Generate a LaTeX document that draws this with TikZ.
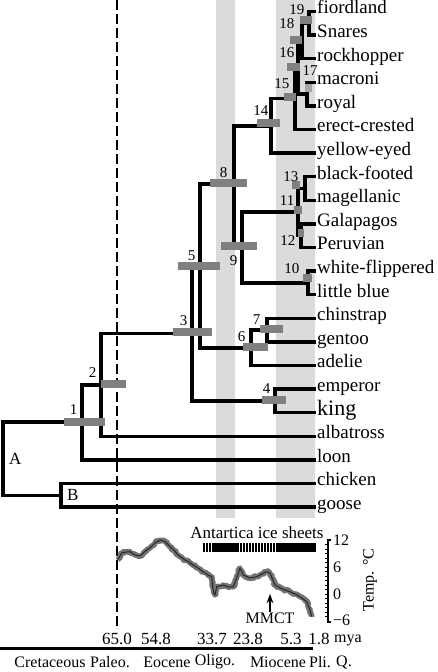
\documentclass[tikz,border=0pt]{standalone}
\usepackage{fontspec}
\setmainfont{Liberation Serif}
\usetikzlibrary{arrows.meta, positioning, decorations.pathmorphing}

\begin{document}
\begin{tikzpicture}[x=1pt, y=-1pt, >=Stealth,
  tiplab/.style={anchor=west, inner sep=1pt, text height=0.46em, text depth=0pt, font=\fontsize{19}{19}\selectfont},
  numlab/.style={inner sep=0.5pt, font=\fontsize{15}{15}\selectfont},
  branch/.style={line width=3.5pt},
  cibar/.style={fill=black!50},
  band/.style={fill=black!14},
  axlab/.style={inner sep=0pt, font=\fontsize{17}{17}\selectfont},
  perlab/.style={inner sep=0pt, font=\fontsize{16}{16}\selectfont},
  templab/.style={anchor=west, inner sep=0pt, font=\fontsize{16}{16}\selectfont}]
  \useasboundingbox (0,0) rectangle (438,672);
  \fill[band] (216,0) rectangle (235,518);
  \fill[band] (276,0) rectangle (315,518);
  \draw[line width=2.2pt, dash pattern=on 10pt off 4pt] (117,0) -- (117,628);

  \node[tiplab] (fiordland) at (316,11.5) {fiordland};
  \node[tiplab] (snares) at (316,35.1) {Snares};
  \node[tiplab] (rockhopper) at (316,58.7) {rockhopper};
  \node[tiplab] (macroni) at (316,82.3) {macroni};
  \node[tiplab] (royal) at (316,105.9) {royal};
  \node[tiplab] (erectcrested) at (316,129.5) {erect-crested};
  \node[tiplab] (yelloweyed) at (316,153.1) {yellow-eyed};
  \node[tiplab] (blackfooted) at (316,176.7) {black-footed};
  \node[tiplab] (magellanic) at (316,200.3) {magellanic};
  \node[tiplab] (galapagos) at (316,223.9) {Galapagos};
  \node[tiplab] (peruvian) at (316,247.5) {Peruvian};
  \node[tiplab] (whiteflippered) at (316,271.1) {white-flippered};
  \node[tiplab] (littleblue) at (316,294.7) {little blue};
  \node[tiplab] (chinstrap) at (316,318.3) {chinstrap};
  \node[tiplab] (gentoo) at (316,341.9) {gentoo};
  \node[tiplab] (adelie) at (316,365.5) {adelie};
  \node[tiplab] (emperor) at (316,389.1) {emperor};
  \node[tiplab, font=\fontsize{22}{22}\selectfont] (king) at (316,412.7) {king};
  \node[tiplab] (albatross) at (316,436.3) {albatross};
  \node[tiplab] (loon) at (316,459.9) {loon};
  \node[tiplab] (chicken) at (316,483.5) {chicken};
  \node[tiplab] (goose) at (316,507.1) {goose};

  \coordinate (n19) at (309,23.3);
  \coordinate (n18) at (302,41);
  \coordinate (n17) at (307,94.1);
  \coordinate (n16) at (298,67.5);
  \coordinate (n15) at (295,98.5);
  \coordinate (n14) at (271,125.8);
  \coordinate (n13) at (305,188.5);
  \coordinate (n12) at (301,235.7);
  \coordinate (n11) at (298,212.1);
  \coordinate (n10) at (308,282.9);
  \coordinate (n9) at (242,247.5);
  \coordinate (n8) at (234,184);
  \coordinate (n7) at (267,330.1);
  \coordinate (n6) at (251,347.8);
  \coordinate (n5) at (200,266);
  \coordinate (n4) at (275,400.9);
  \coordinate (n3) at (192,333.4);
  \coordinate (n2) at (101,384.8);
  \coordinate (n1) at (82,422);
  \coordinate (B) at (61,495.3);
  \coordinate (A) at (3,458.6);

  \draw[branch] (n1) -| (A) |- (B);
  \draw[branch] (chicken.west) -| (B) |- (goose.west);
  \draw[branch] (n2) -| (n1) |- (loon.west);
  \draw[branch] (n3) -| (n2) |- (albatross.west);
  \draw[branch] (n5) -| (n3) |- (n4);
  \draw[branch] (emperor.west) -| (n4) |- (king.west);
  \draw[branch] (n8) -| (n5) |- (n6);
  \draw[branch] (n7) -| (n6) |- (adelie.west);
  \draw[branch] (chinstrap.west) -| (n7) |- (gentoo.west);
  \draw[branch] (n14) -| (n8) |- (n9);
  \draw[branch] (n11) -| (n9) |- (n10);
  \draw[branch] (whiteflippered.west) -| (n10) |- (littleblue.west);
  \draw[branch] (n13) -| (n11) |- (n12);
  \draw[branch] (blackfooted.west) -| (n13) |- (magellanic.west);
  \draw[branch] (galapagos.west) -| (n12) |- (peruvian.west);
  \draw[branch] (n15) -| (n14) |- (yelloweyed.west);
  \draw[branch] (n16) -| (n15) |- (erectcrested.west);
  \draw[branch] (n18) -| (n16) |- (n17);
  \draw[branch] (macroni.west) -| (n17) |- (royal.west);
  \draw[branch] (n19) -| (n18) |- (rockhopper.west);
  \draw[branch] (fiordland.west) -| (n19) |- (snares.west);

  \fill[cibar] (64,418.3) rectangle (105,425.7);
  \fill[cibar] (101,380.3) rectangle (126,387.7);
  \fill[cibar] (173,328.3) rectangle (212,335.7);
  \fill[cibar] (262,396.3) rectangle (286,403.7);
  \fill[cibar] (178,262.3) rectangle (220,269.7);
  \fill[cibar] (243,343.3) rectangle (268,350.7);
  \fill[cibar] (260,325.3) rectangle (283,332.7);
  \fill[cibar] (210,179.3) rectangle (247,186.7);
  \fill[cibar] (221,242.3) rectangle (257,249.7);
  \fill[cibar] (303,274.3) rectangle (312,281.7);
  \fill[cibar] (294,206.3) rectangle (302,213.7);
  \fill[cibar] (298,229.3) rectangle (304,236.7);
  \fill[cibar] (292,181.3) rectangle (300,188.7);
  \fill[cibar] (257,119.3) rectangle (280,126.7);
  \fill[cibar] (284,93.3) rectangle (296,100.7);
  \fill[cibar] (287,63.3) rectangle (300,70.7);
  \fill[cibar, black!35] (305,84.3) rectangle (312,91.7);
  \fill[cibar] (290,36.3) rectangle (302,43.7);
  \fill[cibar] (300,16.3) rectangle (312,23.7);

  \node[numlab, above left=7pt and 4pt of n1] (lab1) {1};
  \node[numlab, above left=7pt and 4pt of n2] (lab2) {2};
  \node[numlab, above left=7pt and 4pt of n3] (lab3) {3};
  \node[numlab, above left=7pt and 4pt of n4] (lab4) {4};
  \node[numlab, above left=5pt and 4pt of n5] (lab5) {5};
  \node[numlab, above left=5pt and 5pt of n6] (lab6) {6};
  \node[numlab, above left=5pt and 6pt of n7] (lab7) {7};
  \node[numlab, above left=6pt and 6pt of n8] (lab8) {8};
  \node[numlab, below left=7pt and 4pt of n9] (lab9) {9};
  \node[numlab, above left=9pt and 8pt of n10] (lab10) {10};
  \node[numlab, above left=6pt and 3pt of n11] (lab11) {11};
  \node[numlab, below left=-1pt and 5pt of n12] (lab12) {12};
  \node[numlab, above left=6pt and 6pt of n13] (lab13) {13};
  \node[numlab, above left=10pt and 2pt of n14] (lab14) {14};
  \node[numlab, above left=9pt and 5pt of n15] (lab15) {15};
  \node[numlab, above left=9pt and 3pt of n16] (lab16) {16};
  \node[numlab, above=18pt of n17, xshift=3pt] (lab17) {17};
  \node[numlab, above left=12pt and 7pt of n18] (lab18) {18};
  \node[numlab, above left=8pt and 4pt of n19] (lab19) {19};
  \node[axlab, right=6pt of A] (labA) {A};
  \node[axlab, right=6pt of B] (labB) {B};

  \node[axlab] (ice) at (257,533) {Antartica ice sheets};
  \foreach \x in {203,206,209,212} \fill (\x,543) rectangle ++(1.7,9);
  \fill (213,543) rectangle (237,552);
  \foreach \x in {237,240,...,276} \fill (\x,543) rectangle ++(1.8,9);
  \fill (277,543) rectangle (316,552);

  \draw[black!85, line width=1pt, line join=round,
    preaction={draw, black!55, line width=5.5pt, line join=round, decorate,
      decoration={random steps, segment length=1.5pt, amplitude=1.1pt}}]
    (117.7,560) -- (121.7,553) -- (126,552) -- (130,551.7) -- (135,555) -- (140,556)
    -- (146.7,550) -- (151,547) -- (155,543) -- (160,540) -- (165,541.7) -- (170,546.7)
    -- (174,550) -- (178,555) -- (185,560) -- (189,562) -- (193,565) -- (198,568)
    -- (203,571.7) -- (208,575) -- (211.7,576.7) -- (213.3,591.7) -- (215,595)
    -- (216.7,586.7) -- (223.3,585) -- (228,587) -- (233.3,586.7) -- (236.7,578)
    -- (240,568) -- (243.3,575) -- (250,578) -- (256.7,576.7) -- (262,574)
    -- (266.7,571.7) -- (270,573) -- (275,585) -- (280,588) -- (285,590)
    -- (290,591.7) -- (295,594) -- (300,596.7) -- (306.7,601.7) -- (310,610)
    -- (311.7,616.7);

  \draw[line width=2.4pt] (331,540) -| (328,622) -- (331,622);
  \foreach \t in {544.6,549.1,...,618} \draw[line width=1pt] (328,\t) -- (325,\t);
  \node[templab] (t12) at (333,540) {12};
  \node[templab] (t6) at (333,567.3) {6};
  \node[templab] (t0) at (333,594.7) {0};
  \node[templab] (tm6) at (333,620) {−6};
  \node[templab, anchor=center, rotate=90] (templabel) at (370,580) {Temp. °C};

  \node[templab, anchor=center] (mmct) at (270,618) {MMCT};
  \coordinate (mmctpt) at (270,594);
  \draw[->, line width=1.4pt] (mmct.north) -- (mmctpt);

  \node[axlab] (a65) at (117,639) {65.0};
  \node[axlab] (a548) at (156,639) {54.8};
  \node[axlab] (a337) at (212,639) {33.7};
  \node[axlab] (a238) at (248,639) {23.8};
  \node[axlab] (a53) at (291,639) {5.3};
  \node[axlab] (a18) at (319,639) {1.8};
  \node[perlab] (mya) at (348,640) {mya};
  \draw[line width=3pt] (0,648) -- (313,648);

  \node[perlab] (cret) at (50,662) {Cretaceous};
  \node[perlab] (paleo) at (110,662) {Paleo.};
  \node[perlab] (eoc) at (167,662) {Eocene};
  \node[perlab] (oligo) at (215,662) {Oligo.};
  \node[perlab] (mioc) at (278,662) {Miocene};
  \node[perlab] (pli) at (320,662) {Pli.};
  \node[perlab] (quat) at (344,662) {Q.};
\end{tikzpicture}
\end{document}
